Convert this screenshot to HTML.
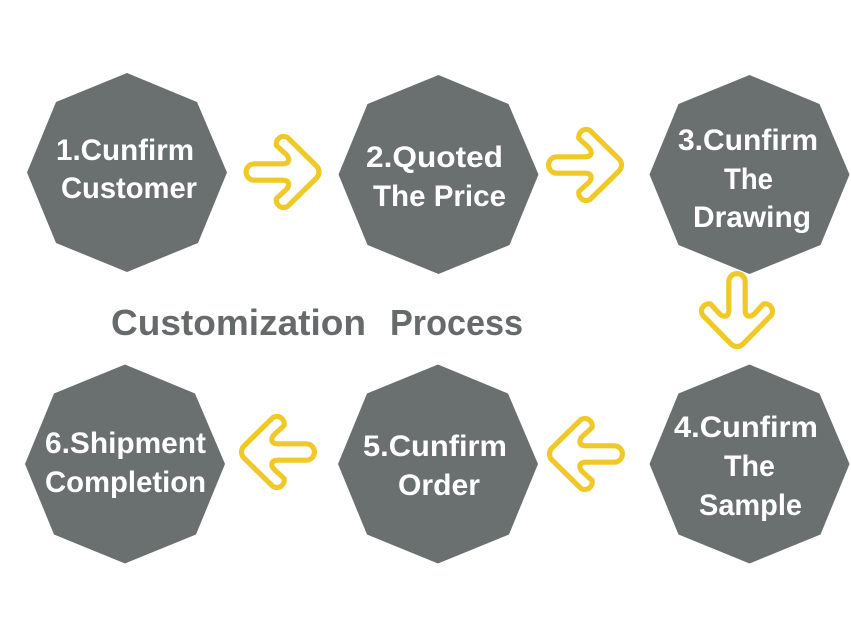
<!DOCTYPE html>
<html><head><meta charset="utf-8"><style>
html,body{margin:0;padding:0;background:#fff}
svg{display:block}
.t{font-family:"Liberation Sans",sans-serif;font-weight:bold;font-size:30px;fill:#fff}
.h{font-family:"Liberation Sans",sans-serif;font-weight:bold;font-size:36px;fill:#666a6b}
.a{fill:#fff;stroke:#f0c928;stroke-width:5.2;stroke-linejoin:round}
</style></head><body>
<svg width="851" height="627" viewBox="0 0 851 627" xmlns="http://www.w3.org/2000/svg">
<defs>
<polygon id="o" points="0,-99.5 70,-70.5 100,0 71,70.5 0,99.5 -71,70.5 -100,0 -71,-70.5" fill="#6a6f70"/>
<path id="r" class="a" d="M-28.7,8.2A8.2,8.2 0 0 1 -28.7,-8.2H-0.3C7,-8.2 7,-14 2.7,-18L-6.6,-26.5A7.5,7.5 0 0 1 4.5,-34.5L33.500,-6A8.5,8.5 0 0 1 33.500,6L4.5,34.5A7.5,7.5 0 0 1 -6.6,26.5L2.700,18C7,14 7,8.2 -0.3,8.2Z"/>
</defs>
<rect width="851" height="627" fill="#fff"/>
<use href="#o" transform="translate(127,172.5)"/>
<use href="#o" transform="translate(438.5,174.5)"/>
<use href="#o" transform="translate(749.5,174.5)"/>
<use href="#o" transform="translate(749.5,464)"/>
<use href="#o" transform="translate(438,464)"/>
<use href="#o" transform="translate(125,464)"/>

<use href="#r" transform="translate(283,172)"/>
<use href="#r" transform="translate(585.5,165)"/>
<use href="#r" transform="translate(737,310.5) rotate(90)"/>
<use href="#r" transform="translate(585.5,454) rotate(180)"/>
<use href="#r" transform="translate(277.5,452) rotate(180)"/>

<text class="t" x="56" y="160" textLength="138" lengthAdjust="spacingAndGlyphs">1.Cunfirm</text>
<text class="t" x="61" y="198" textLength="136" lengthAdjust="spacingAndGlyphs">Customer</text>
<text class="t" x="366" y="167" textLength="137" lengthAdjust="spacingAndGlyphs">2.Quoted</text>
<text class="t" x="373" y="206" textLength="133" lengthAdjust="spacingAndGlyphs">The Price</text>
<text class="t" x="678" y="150" textLength="140" lengthAdjust="spacingAndGlyphs">3.Cunfirm</text>
<text class="t" x="724" y="189" textLength="49" lengthAdjust="spacingAndGlyphs">The</text>
<text class="t" x="693" y="227" textLength="118" lengthAdjust="spacingAndGlyphs">Drawing</text>
<text class="t" x="674" y="437" textLength="144" lengthAdjust="spacingAndGlyphs">4.Cunfirm</text>
<text class="t" x="724" y="476" textLength="51" lengthAdjust="spacingAndGlyphs">The</text>
<text class="t" x="699" y="515" textLength="103" lengthAdjust="spacingAndGlyphs">Sample</text>
<text class="t" x="363" y="456" textLength="144" lengthAdjust="spacingAndGlyphs">5.Cunfirm</text>
<text class="t" x="398" y="495" textLength="82" lengthAdjust="spacingAndGlyphs">Order</text>
<text class="t" x="45" y="453" textLength="161" lengthAdjust="spacingAndGlyphs">6.Shipment</text>
<text class="t" x="45" y="492" textLength="161" lengthAdjust="spacingAndGlyphs">Completion</text>
<text class="h" x="111" y="335" textLength="255" lengthAdjust="spacingAndGlyphs">Customization</text>
<text class="h" x="390" y="335" textLength="133" lengthAdjust="spacingAndGlyphs">Process</text>
</svg>
</body></html>
